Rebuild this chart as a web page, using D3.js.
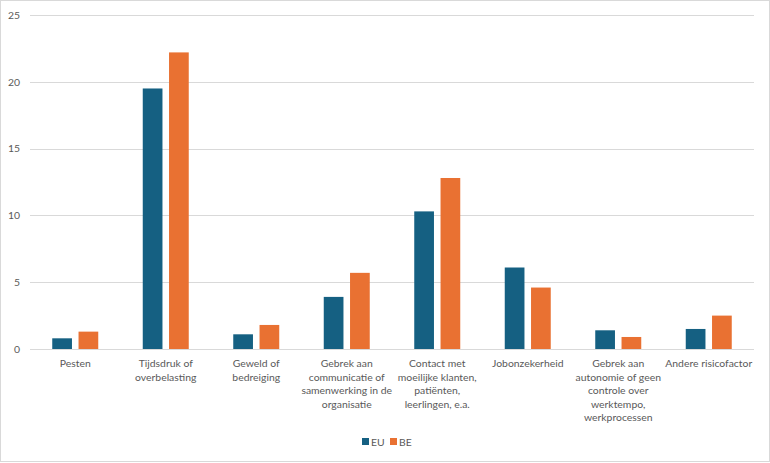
<!DOCTYPE html>
<html><head><meta charset="utf-8">
<script src="https://cdn.jsdelivr.net/npm/d3@7"></script>
<style>body{margin:0;background:#fff}svg{display:block}text{font-family:Lato,"Open Sans",sans-serif;fill:#595959}</style>
</head><body>
<svg id="c" width="770" height="463"></svg>
<script>
const categories = [
  ["Pesten"],
  ["Tijdsdruk of", "overbelasting"],
  ["Geweld of", "bedreiging"],
  ["Gebrek aan", "communicatie of", "samenwerking in de", "organisatie"],
  ["Contact met", "moeilijke klanten,", "patiënten,", "leerlingen, e.a."],
  ["Jobonzekerheid"],
  ["Gebrek aan", "autonomie of geen", "controle over", "werktempo,", "werkprocessen"],
  ["Andere risicofactor"]
];
const seriesNames = ["EU", "BE"];
const euValues = [0.8, 19.5, 1.1, 3.9, 10.3, 6.1, 1.4, 1.5];
const beValues = [1.3, 22.2, 1.8, 5.7, 12.8, 4.6, 0.9, 2.5];
const yTicks = [0, 5, 10, 15, 20, 25];
const colors = {EU: "#156082", BE: "#E97132"};
const fs = "10.4px";

const svg = d3.select("#c");
svg.append("rect").attr("x",0.5).attr("y",0.5).attr("width",769).attr("height",461)
  .attr("fill","#fff").attr("stroke","#d9d9d9");

const idx = categories.map((d,i)=>i);
const x0 = d3.scaleBand().domain(idx).range([30, 754]).padding(0);
const bw = x0.bandwidth();
const x1 = d3.scaleBand().domain(seriesNames).range([bw/2-23, bw/2+23]).paddingInner(0.25).paddingOuter(0);
const y = d3.scaleLinear().domain([0, 25]).range([349, 15]);

const yAxis = d3.axisLeft(y).tickValues(yTicks).tickSize(-(754-30)).tickPadding(10);
const gy = svg.append("g").attr("transform","translate(30,0)").call(yAxis);
gy.select(".domain").remove();
gy.selectAll("line").attr("stroke","#d9d9d9").attr("shape-rendering","crispEdges");
gy.selectAll("text").attr("font-size",fs).attr("font-family","Lato").attr("fill","#595959").attr("x",-10);

const data = idx.map(i => ({i, EU: euValues[i], BE: beValues[i]}));
const groups = svg.append("g").selectAll("g").data(data).join("g")
  .attr("transform", d => `translate(${x0(d.i)},0)`);
groups.selectAll("rect").data(d => seriesNames.map(s => ({s, v: d[s]}))).join("rect")
  .attr("x", d => x1(d.s)).attr("width", x1.bandwidth())
  .attr("y", d => y(d.v)).attr("height", d => y(0) - y(d.v))
  .attr("fill", d => colors[d.s]);

const xl = svg.append("g");
categories.forEach((lines, i) => {
  const t = xl.append("text").attr("text-anchor","middle").attr("font-size",fs)
    .attr("x", x0(i) + bw/2).attr("y", 367);
  lines.forEach((ln, k) => t.append("tspan").attr("x", x0(i) + bw/2).attr("y", 367 + k*13.6).text(ln));
});

const leg = svg.append("g");
const legItems = [{s:"EU", x:362}, {s:"BE", x:390}];
legItems.forEach(it => {
  leg.append("rect").attr("x", it.x).attr("y", 438).attr("width", 7).attr("height", 7).attr("fill", colors[it.s]);
  leg.append("text").attr("x", it.x + 9).attr("y", 445.5).attr("font-size",fs).text(it.s);
});
</script>
</body></html>
